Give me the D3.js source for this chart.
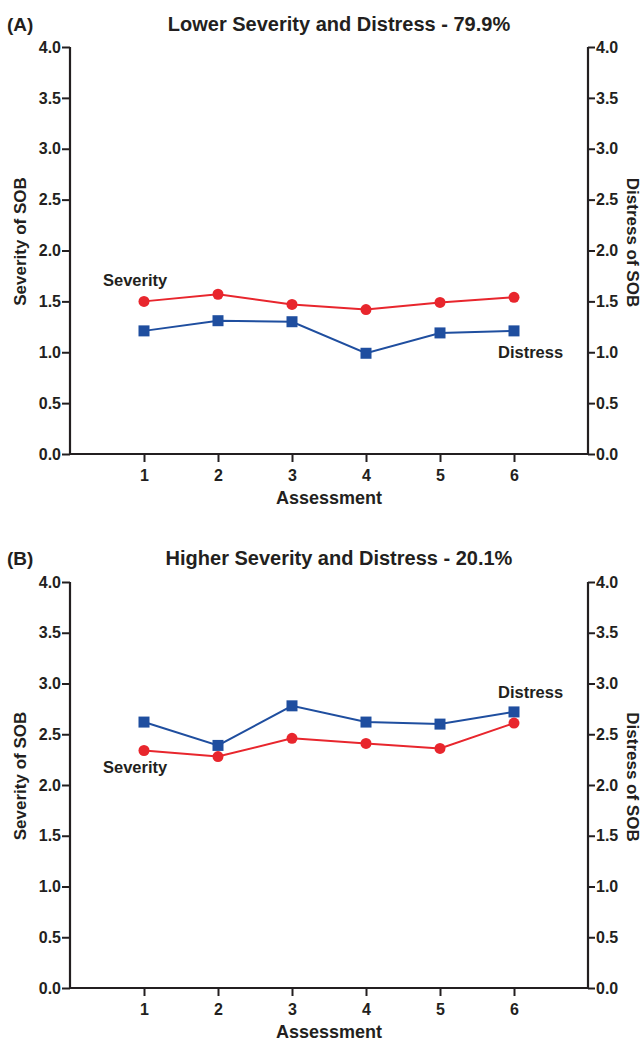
<!DOCTYPE html>
<html><head><meta charset="utf-8">
<script src="https://cdn.jsdelivr.net/npm/d3@7"></script>
<style>body{margin:0;background:#fff}text{font-family:"Liberation Sans",Arial,sans-serif;font-weight:bold;fill:#231f20}</style>
</head><body><svg id="c" width="643" height="1042"></svg>
<script>
const assessments = [1, 2, 3, 4, 5, 6];
const yTicks = [0, 0.5, 1, 1.5, 2, 2.5, 3, 3.5, 4];
const panelLetters = ["(A)", "(B)"];
const panelTitles = ["Lower Severity and Distress - 79.9%", "Higher Severity and Distress - 20.1%"];
const severityA = [1.50, 1.57, 1.47, 1.42, 1.49, 1.54];
const distressA = [1.21, 1.31, 1.30, 0.99, 1.19, 1.21];
const severityB = [2.34, 2.28, 2.46, 2.41, 2.36, 2.61];
const distressB = [2.62, 2.39, 2.78, 2.62, 2.60, 2.72];

const svg = d3.select("#c");
const ink = "#231f20", red = "#e8262d", blue = "#1f4e9f";
const x = d3.scaleLinear().domain([0, 7]).range([70, 588]);
const FONT = '"Liberation Sans",Arial,sans-serif';

const panels = [
  {top: 47, bottom: 454, sev: severityA, dis: distressA, titleY: 31,
   sevLabel: {x: 103, y: 286}, disLabel: {x: 498, y: 358}},
  {top: 582, bottom: 988, sev: severityB, dis: distressB, titleY: 565,
   sevLabel: {x: 103, y: 773}, disLabel: {x: 498, y: 698}}
];

panels.forEach((p, i) => {
  const g = svg.append("g");
  const y = d3.scaleLinear().domain([0, 4]).range([p.bottom, p.top]);
  g.append("text").attr("x", 7).attr("y", p.titleY).attr("font-size", 19).text(panelLetters[i]);
  g.append("text").attr("x", 339).attr("y", p.titleY).attr("text-anchor", "middle").attr("font-size", 20).text(panelTitles[i]);

  const fmt = d3.format(".1f");
  const la = g.append("g").attr("transform", `translate(${x(0)},0)`)
    .call(d3.axisLeft(y).tickValues(yTicks).tickFormat(fmt).tickSize(8).tickPadding(1));
  const ra = g.append("g").attr("transform", `translate(${x(7)},0)`)
    .call(d3.axisRight(y).tickValues(yTicks).tickFormat(fmt).tickSize(7).tickPadding(1));
  const xa = g.append("g").attr("transform", `translate(0,${p.bottom})`)
    .call(d3.axisBottom(x).tickValues(assessments).tickFormat(d3.format("d")).tickSize(8).tickPadding(8));
  [la, ra, xa].forEach(a => {
    a.attr("font-size", 16).attr("font-family", FONT);
    a.select(".domain").attr("stroke", ink).attr("stroke-width", 2.2);
    a.selectAll(".tick line").attr("stroke", ink).attr("stroke-width", 2);
    a.selectAll(".tick text").attr("fill", ink).style("font-weight", "bold");
  });
  xa.select(".domain").attr("d", `M${x(0)},0H${x(7)}`);
  la.select(".domain").attr("d", `M0,${p.top}V${p.bottom}`);
  ra.select(".domain").attr("d", `M0,${p.top}V${p.bottom}`);

  g.append("text").attr("x", x(3.5)).attr("y", p.bottom + 50).attr("text-anchor", "middle").attr("font-size", 18).text("Assessment");
  const mid = (p.top + p.bottom) / 2;
  g.append("text").attr("transform", `translate(26,${mid - 9}) rotate(-90)`).attr("text-anchor", "middle").attr("font-size", 17).text("Severity of SOB");
  g.append("text").attr("transform", `translate(627,${mid - 8}) rotate(90)`).attr("text-anchor", "middle").attr("font-size", 17).text("Distress of SOB");

  const line = d3.line().x((d, j) => x(assessments[j])).y(d => y(d));
  g.append("path").datum(p.dis).attr("d", line).attr("fill", "none").attr("stroke", blue).attr("stroke-width", 2);
  g.append("path").datum(p.sev).attr("d", line).attr("fill", "none").attr("stroke", red).attr("stroke-width", 2);
  g.selectAll(".sq").data(p.dis).join("rect")
    .attr("x", (d, j) => x(assessments[j]) - 5.5).attr("y", d => y(d) - 5.5)
    .attr("width", 11).attr("height", 11).attr("fill", blue);
  g.selectAll(".ci").data(p.sev).join("circle")
    .attr("cx", (d, j) => x(assessments[j])).attr("cy", d => y(d)).attr("r", 5.5).attr("fill", red);

  g.append("text").attr("x", p.sevLabel.x).attr("y", p.sevLabel.y).attr("font-size", 16.5).text("Severity");
  g.append("text").attr("x", p.disLabel.x).attr("y", p.disLabel.y).attr("font-size", 16.5).text("Distress");
});
</script></body></html>
